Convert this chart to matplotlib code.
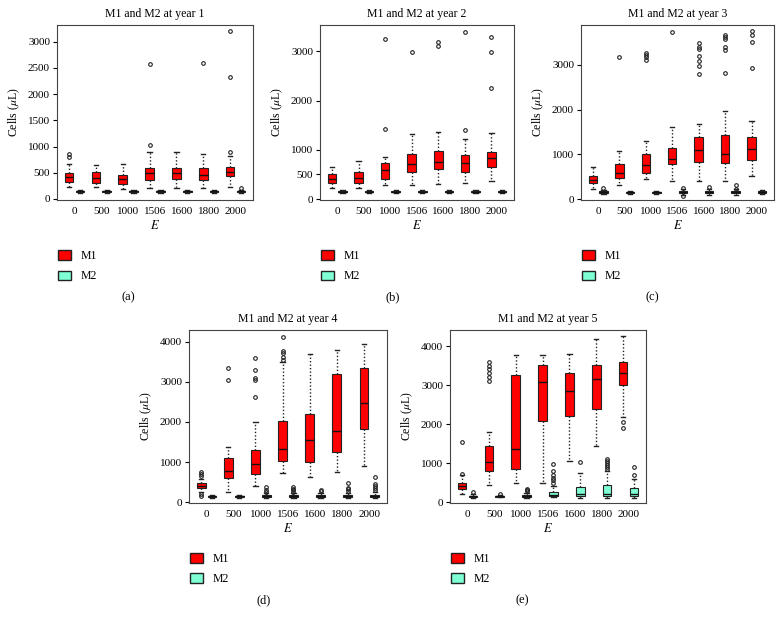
import numpy as np
import matplotlib
matplotlib.use("Agg")
import matplotlib.pyplot as plt
from matplotlib.patches import Patch

plt.rcParams['font.family'] = ['Liberation Serif', 'DejaVu Serif']
plt.rcParams['mathtext.fontset'] = 'stix'

# E values on the x axis
e_labels = ["0", "500", "1000", "1506", "1600", "1800", "2000"]

# each box: (whisker low, q1, median, q3, whisker high)
m1_y1 = [(223, 325, 420, 497, 675), (223, 306, 400, 510, 643), (190, 293, 390, 465, 675),
         (210, 357, 497, 592, 898), (204, 382, 497, 592, 898), (210, 369, 465, 592, 866),
         (229, 433, 516, 605, 828)]
m1_y1_out = [[800, 860], [], [], [1032, 2567], [], [2600], [898, 2325, 3204]]
m2_y1 = [(120, 138, 150, 160, 180)] * 7
m2_y1_out = [[], [], [], [], [], [], [210]]

m1_y2 = [(216, 318, 412, 507, 656), (216, 318, 419, 541, 777), (284, 406, 588, 723, 858),
         (284, 554, 710, 906, 1311), (304, 608, 757, 980, 1352), (331, 541, 737, 892, 1210),
         (365, 656, 825, 960, 1345)]
m1_y2_out = [[], [], [1432, 3248], [2979], [3114, 3180], [1399, 3396], [2253, 2979, 3295]]
m2_y2 = [(115, 135, 150, 165, 185)] * 7
m2_y2_out = [[], [], [], [], [], [], []]

m1_y3 = [(226, 353, 436, 526, 714), (323, 474, 587, 775, 1075), (451, 579, 752, 1000, 1301),
         (413, 775, 902, 1150, 1619), (413, 827, 1090, 1391, 1671), (413, 805, 1000, 1429, 1969),
         (526, 880, 1128, 1391, 1753)]
m1_y3_out = [[], [3185], [3110, 3170, 3220, 3270], [3730],
             [2790, 2984, 3088, 3200, 3350, 3409, 3484],
             [2827, 3335, 3409, 3573, 3618, 3670], [2924, 3506, 3670, 3745]]
m2_y3 = [(110, 140, 155, 170, 210), (115, 135, 150, 165, 190), (115, 135, 150, 165, 190),
         (100, 130, 155, 185, 230), (100, 135, 160, 185, 230), (100, 135, 155, 180, 220),
         (115, 140, 155, 170, 200)]
m2_y3_out = [[250], [], [], [60, 250], [270], [220, 320], []]

m1_y4 = [(247, 346, 412, 478, 577), (264, 602, 783, 1097, 1386), (396, 701, 940, 1303, 1996),
         (717, 1031, 1336, 2021, 3500), (620, 1006, 1560, 2202, 3686), (742, 1254, 1780, 3190, 3780),
         (900, 1820, 2480, 3350, 3930)]
m1_y4_out = [[165, 206, 660, 700, 760], [3052, 3340], [2620, 3050, 3100, 3300, 3600],
             [3550, 3629, 3711, 3777, 4124], [], [], []]
m2_y4 = [(110, 135, 150, 165, 190), (115, 135, 150, 165, 185), (110, 135, 150, 170, 220),
         (110, 135, 155, 175, 230), (110, 140, 160, 180, 240), (110, 135, 155, 180, 240),
         (110, 135, 160, 190, 260)]
m2_y4_out = [[], [], [260, 300, 380], [260, 300, 340, 380], [280, 300],
             [280, 320, 360, 480], [300, 350, 400, 450, 620]]

m1_y5 = [(200, 350, 420, 500, 700), (450, 800, 1040, 1450, 1790), (500, 850, 1350, 3270, 3780),
         (490, 2090, 3080, 3510, 3770), (1060, 2210, 2860, 3300, 3790), (1440, 2380, 3160, 3510, 4170),
         (2180, 3000, 3300, 3600, 4260)]
m1_y5_out = [[720, 1530], [3100, 3200, 3300, 3400, 3500, 3600], [], [], [], [], [1900, 2050]]
m2_y5 = [(120, 135, 150, 170, 210), (130, 140, 150, 165, 190), (120, 140, 155, 175, 230),
         (130, 150, 180, 270, 420), (120, 150, 200, 400, 760), (120, 160, 200, 450, 800),
         (120, 150, 200, 360, 600)]
m2_y5_out = [[250], [200], [280, 320, 350], [500, 560, 620, 700, 800, 990], [1040],
             [850, 900, 950, 1000, 1050, 1100], [700, 900]]

years = [1, 2, 3, 4, 5]
m1_all = [m1_y1, m1_y2, m1_y3, m1_y4, m1_y5]
m1_out = [m1_y1_out, m1_y2_out, m1_y3_out, m1_y4_out, m1_y5_out]
m2_all = [m2_y1, m2_y2, m2_y3, m2_y4, m2_y5]
m2_out = [m2_y1_out, m2_y2_out, m2_y3_out, m2_y4_out, m2_y5_out]
ytops = [3320, 3535, 3890, 4290, 4410]
yticks = [[0, 500, 1000, 1500, 2000, 2500, 3000],
          [0, 500, 1000, 2000, 3000],
          [0, 1000, 2000, 3000],
          [0, 1000, 2000, 3000, 4000],
          [0, 1000, 2000, 3000, 4000]]
letters = ["(a)", "(b)", "(c)", "(d)", "(e)"]

W, H = 784, 625
# axes boxes in pixels: left, top, right, bottom
boxes = [(57, 25, 253, 200), (320, 25, 514, 200), (581, 25, 774, 200),
         (189, 330, 387, 503), (450, 330, 646, 503)]
letter_x = [128, 393, 652, 264, 522]

red = "#FF0000"
aqua = "#7FFFD4"


def to_stats(rows, outs):
    stats = []
    for (lo, q1, med, q3, hi), fl in zip(rows, outs):
        stats.append(dict(whislo=lo, q1=q1, med=med, q3=q3, whishi=hi, fliers=fl))
    return stats


fig = plt.figure(figsize=(W / 100, H / 100), dpi=100)

for k in range(5):
    l, t, r, b = boxes[k]
    ax = fig.add_axes([l / W, 1 - b / H, (r - l) / W, (b - t) / H])
    pos = np.arange(7)
    for rows, outs, col, off in [(m1_all[k], m1_out[k], red, -0.2), (m2_all[k], m2_out[k], aqua, 0.2)]:
        ax.bxp(to_stats(rows, outs), positions=pos + off, widths=0.32, patch_artist=True,
               capwidths=0.16, manage_ticks=False,
               boxprops=dict(facecolor=col, edgecolor="#222222", linewidth=0.8),
               medianprops=dict(color="#111111", linewidth=1.0),
               whiskerprops=dict(color="#222222", linestyle=(0, (1, 1.5)), linewidth=1.0),
               capprops=dict(color="#222222", linewidth=1.0),
               flierprops=dict(marker="o", markersize=2.6, markerfacecolor="none",
                               markeredgecolor="#222222", markeredgewidth=0.8))
    ax.set_xlim(-0.65, 6.65)
    ax.set_ylim(-20, ytops[k])
    ax.set_xticks(pos)
    ax.set_xticklabels(e_labels, fontsize=8)
    ax.tick_params(axis="x", length=0, pad=5)
    ax.set_yticks(yticks[k])
    ax.tick_params(axis="y", length=3, labelsize=8, pad=2)
    for s in ax.spines.values():
        s.set_color("#444444")
        s.set_linewidth(0.8)
    ax.set_title(f"M1 and M2 at year {years[k]}", fontsize=8.5, pad=6)
    ax.set_ylabel(r"Cells ($\mu$L)", fontsize=8.5, labelpad=4)
    ax.set_xlabel(r"$E$", fontsize=9, labelpad=2)

    handles = [Patch(facecolor=red, edgecolor="#222222", label="M1"),
               Patch(facecolor=aqua, edgecolor="#222222", label="M2")]
    ax.legend(handles=handles, loc="upper left", bbox_to_anchor=(-0.02, -0.26), frameon=False,
              fontsize=8.5, handlelength=1.1, handleheight=0.9, labelspacing=0.7, borderaxespad=0)
    fig.text(letter_x[k] / W, 1 - (b + 97) / H, letters[k], ha="center", va="center", fontsize=9)

fig.savefig("out.png", dpi=100)
